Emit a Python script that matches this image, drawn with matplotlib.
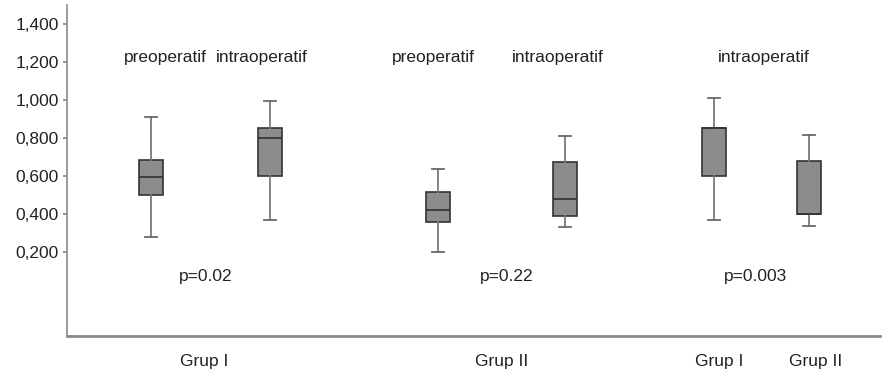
import matplotlib.pyplot as plt

plt.rcParams['font.family'] = ['Liberation Sans', 'DejaVu Sans']

# box statistics (whisker low, q1, median, q3, whisker high)
box_labels = ['G1 pre', 'G1 intra', 'G2 pre', 'G2 intra', 'G1 intra (3)', 'G2 intra (3)']
box_pos = [151, 270, 438, 565, 714, 809]
whislo = [0.279, 0.368, 0.202, 0.330, 0.370, 0.335]
q1 = [0.500, 0.600, 0.356, 0.389, 0.600, 0.400]
med = [0.595, 0.798, 0.419, 0.477, 0.853, 0.400]
q3 = [0.683, 0.853, 0.517, 0.672, 0.853, 0.677]
whishi = [0.911, 0.995, 0.637, 0.810, 1.010, 0.816]

# annotations
top_labels = ['preoperatif', 'intraoperatif', 'preoperatif', 'intraoperatif', 'intraoperatif']
top_pos = [165, 262, 433, 558, 764]
p_labels = ['p=0.02', 'p=0.22', 'p=0.003']
p_pos = [206, 507, 756]
group_labels = ['Grup I', 'Grup II', 'Grup I', 'Grup II']
group_pos = [204, 502, 719, 816]

yticks = [0.2, 0.4, 0.6, 0.8, 1.0, 1.2, 1.4]
ytick_labels = ['0,200', '0,400', '0,600', '0,800', '1,000', '1,200', '1,400']

stats = []
for i in range(len(box_pos)):
    stats.append({'label': box_labels[i], 'whislo': whislo[i], 'q1': q1[i], 'med': med[i],
                  'q3': q3[i], 'whishi': whishi[i], 'fliers': []})

fig = plt.figure(figsize=(8.91, 3.76), dpi=100)
ax = fig.add_axes([67 / 891, (376 - 335.5) / 376, (880 - 67) / 891, (335.5 - 5) / 376])

ax.bxp(stats, positions=box_pos, widths=24, patch_artist=True, showfliers=False,
       boxprops=dict(facecolor='#8c8c8c', edgecolor='#333333', linewidth=1.2),
       medianprops=dict(color='#333333', linewidth=1.2),
       whiskerprops=dict(color='#7a7a7a', linewidth=1.3),
       capprops=dict(color='#6a6a6a', linewidth=1.3),
       capwidths=12)

ax.set_xlim(67, 880)
ax.set_ylim(-0.24, 1.5)

fs = 12.5
ax.set_yticks(yticks)
ax.set_yticklabels(ytick_labels)
ax.set_xticks(group_pos)
ax.set_xticklabels(group_labels)
ax.tick_params(axis='y', length=3, width=1.2, color='#888888', pad=3, labelsize=fs, labelcolor='#222222')
ax.tick_params(axis='x', length=0, pad=13, labelsize=fs, labelcolor='#222222')

for s in ['top', 'right']:
    ax.spines[s].set_visible(False)
ax.spines['left'].set_color('#8a8a8a')
ax.spines['left'].set_linewidth(1.2)
ax.spines['bottom'].set_color('#8a8a8a')
ax.spines['bottom'].set_linewidth(2)

for lbl, x in zip(top_labels, top_pos):
    ax.text(x, 1.226, lbl, ha='center', va='center', fontsize=fs, color='#222222')
for lbl, x in zip(p_labels, p_pos):
    ax.text(x, 0.068, lbl, ha='center', va='center', fontsize=fs, color='#222222')

fig.savefig('out.png', dpi=100)
